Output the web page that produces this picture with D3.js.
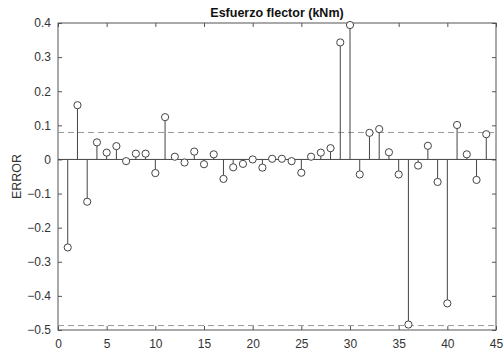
<!DOCTYPE html>
<html>
<head>
<meta charset="utf-8">
<script src="https://cdn.jsdelivr.net/npm/d3@7"></script>
<style>
	body { margin: 0; background: #fff; }
	text { font-family: "Liberation Sans", Arial, sans-serif; }
</style>
</head>
<body>
<svg id="chart" width="504" height="358"></svg>
<script>
// error per element, x = 1..44
var errorValues = [
	-0.258, 0.159, -0.124, 0.05, 0.02, 0.039, -0.005, 0.017, 0.017, -0.04,
	0.124, 0.008, -0.009, 0.023, -0.014, 0.015, -0.057, -0.023, -0.013, 0.0,
	-0.024, 0.002, 0.002, -0.005, -0.039, 0.008, 0.02, 0.033, 0.343, 0.394,
	-0.044, 0.078, 0.089, 0.021, -0.044, -0.484, -0.018, 0.04, -0.066, -0.422,
	0.101, 0.015, -0.06, 0.074
];
var limitLines = [0.079, -0.487];
var xTicks = [0, 5, 10, 15, 20, 25, 30, 35, 40, 45];
var yTicks = [-0.5, -0.4, -0.3, -0.2, -0.1, 0, 0.1, 0.2, 0.3, 0.4];
var titleText = "Esfuerzo flector (kNm)";
var yLabel = "ERROR";

var margin = {left: 58, right: 8, top: 23, bottom: 28};
var width = 504 - margin.left - margin.right;
var height = 358 - margin.top - margin.bottom;

var svg = d3.select("#chart");
var g = svg.append("g")
	.attr("transform", "translate(" + margin.left + "," + margin.top + ")");

var x = d3.scaleLinear().domain([0, 45]).range([0, width]);
var y = d3.scaleLinear().domain([-0.5, 0.4]).range([height, 0]);

var axisColor = "#555";
var textColor = "#333";

// frame and inward ticks (matlab style box)
function styleAxis(sel) {
	sel.select(".domain").remove();
	sel.selectAll("line").attr("stroke", axisColor);
	sel.selectAll("text")
		.attr("fill", textColor)
		.style("font-size", "12px");
}

g.append("g")
	.attr("transform", "translate(0," + height + ")")
	.call(d3.axisBottom(x).tickValues(xTicks).tickSizeInner(-4).tickSizeOuter(0).tickPadding(9))
	.call(styleAxis);

g.append("g")
	.call(d3.axisTop(x).tickValues(xTicks).tickSizeInner(-4).tickSizeOuter(0).tickFormat(""))
	.call(styleAxis);

g.append("g")
	.call(d3.axisLeft(y).tickValues(yTicks).tickSizeInner(-4).tickSizeOuter(0).tickPadding(7)
		.tickFormat(function (d) { return d === 0 ? "0" : d3.format(".1f")(d); }))
	.call(styleAxis);

g.append("g")
	.attr("transform", "translate(" + width + ",0)")
	.call(d3.axisRight(y).tickValues(yTicks).tickSizeInner(-4).tickSizeOuter(0).tickFormat(""))
	.call(styleAxis);

g.append("rect")
	.attr("width", width)
	.attr("height", height)
	.attr("fill", "none")
	.attr("stroke", axisColor)
	.attr("stroke-width", 1);

// dashed limits
g.selectAll(".limit")
	.data(limitLines)
	.enter().append("line")
	.attr("class", "limit")
	.attr("x1", 0)
	.attr("x2", width)
	.attr("y1", function (d) { return y(d); })
	.attr("y2", function (d) { return y(d); })
	.attr("stroke", "#999")
	.attr("stroke-width", 1)
	.attr("stroke-dasharray", "6,4");

// zero baseline
g.append("line")
	.attr("x1", 0)
	.attr("x2", width)
	.attr("y1", y(0))
	.attr("y2", y(0))
	.attr("stroke", "#444")
	.attr("stroke-width", 1);

var stems = g.selectAll(".stem")
	.data(errorValues)
	.enter().append("g")
	.attr("class", "stem");

stems.append("line")
	.attr("x1", function (d, i) { return x(i + 1); })
	.attr("x2", function (d, i) { return x(i + 1); })
	.attr("y1", y(0))
	.attr("y2", function (d) { return y(d); })
	.attr("stroke", "#444")
	.attr("stroke-width", 1);

stems.append("circle")
	.attr("cx", function (d, i) { return x(i + 1); })
	.attr("cy", function (d) { return y(d); })
	.attr("r", 3.6)
	.attr("fill", "#fff")
	.attr("stroke", "#444")
	.attr("stroke-width", 1);

svg.append("text")
	.attr("x", margin.left + width / 2)
	.attr("y", 17)
	.attr("text-anchor", "middle")
	.attr("fill", "#111")
	.style("font-size", "12.5px")
	.style("font-weight", "bold")
	.text(titleText);

svg.append("text")
	.attr("transform", "translate(21," + (margin.top + height / 2) + ") rotate(-90)")
	.attr("text-anchor", "middle")
	.attr("fill", textColor)
	.style("font-size", "12.5px")
	.text(yLabel);
</script>
</body>
</html>
